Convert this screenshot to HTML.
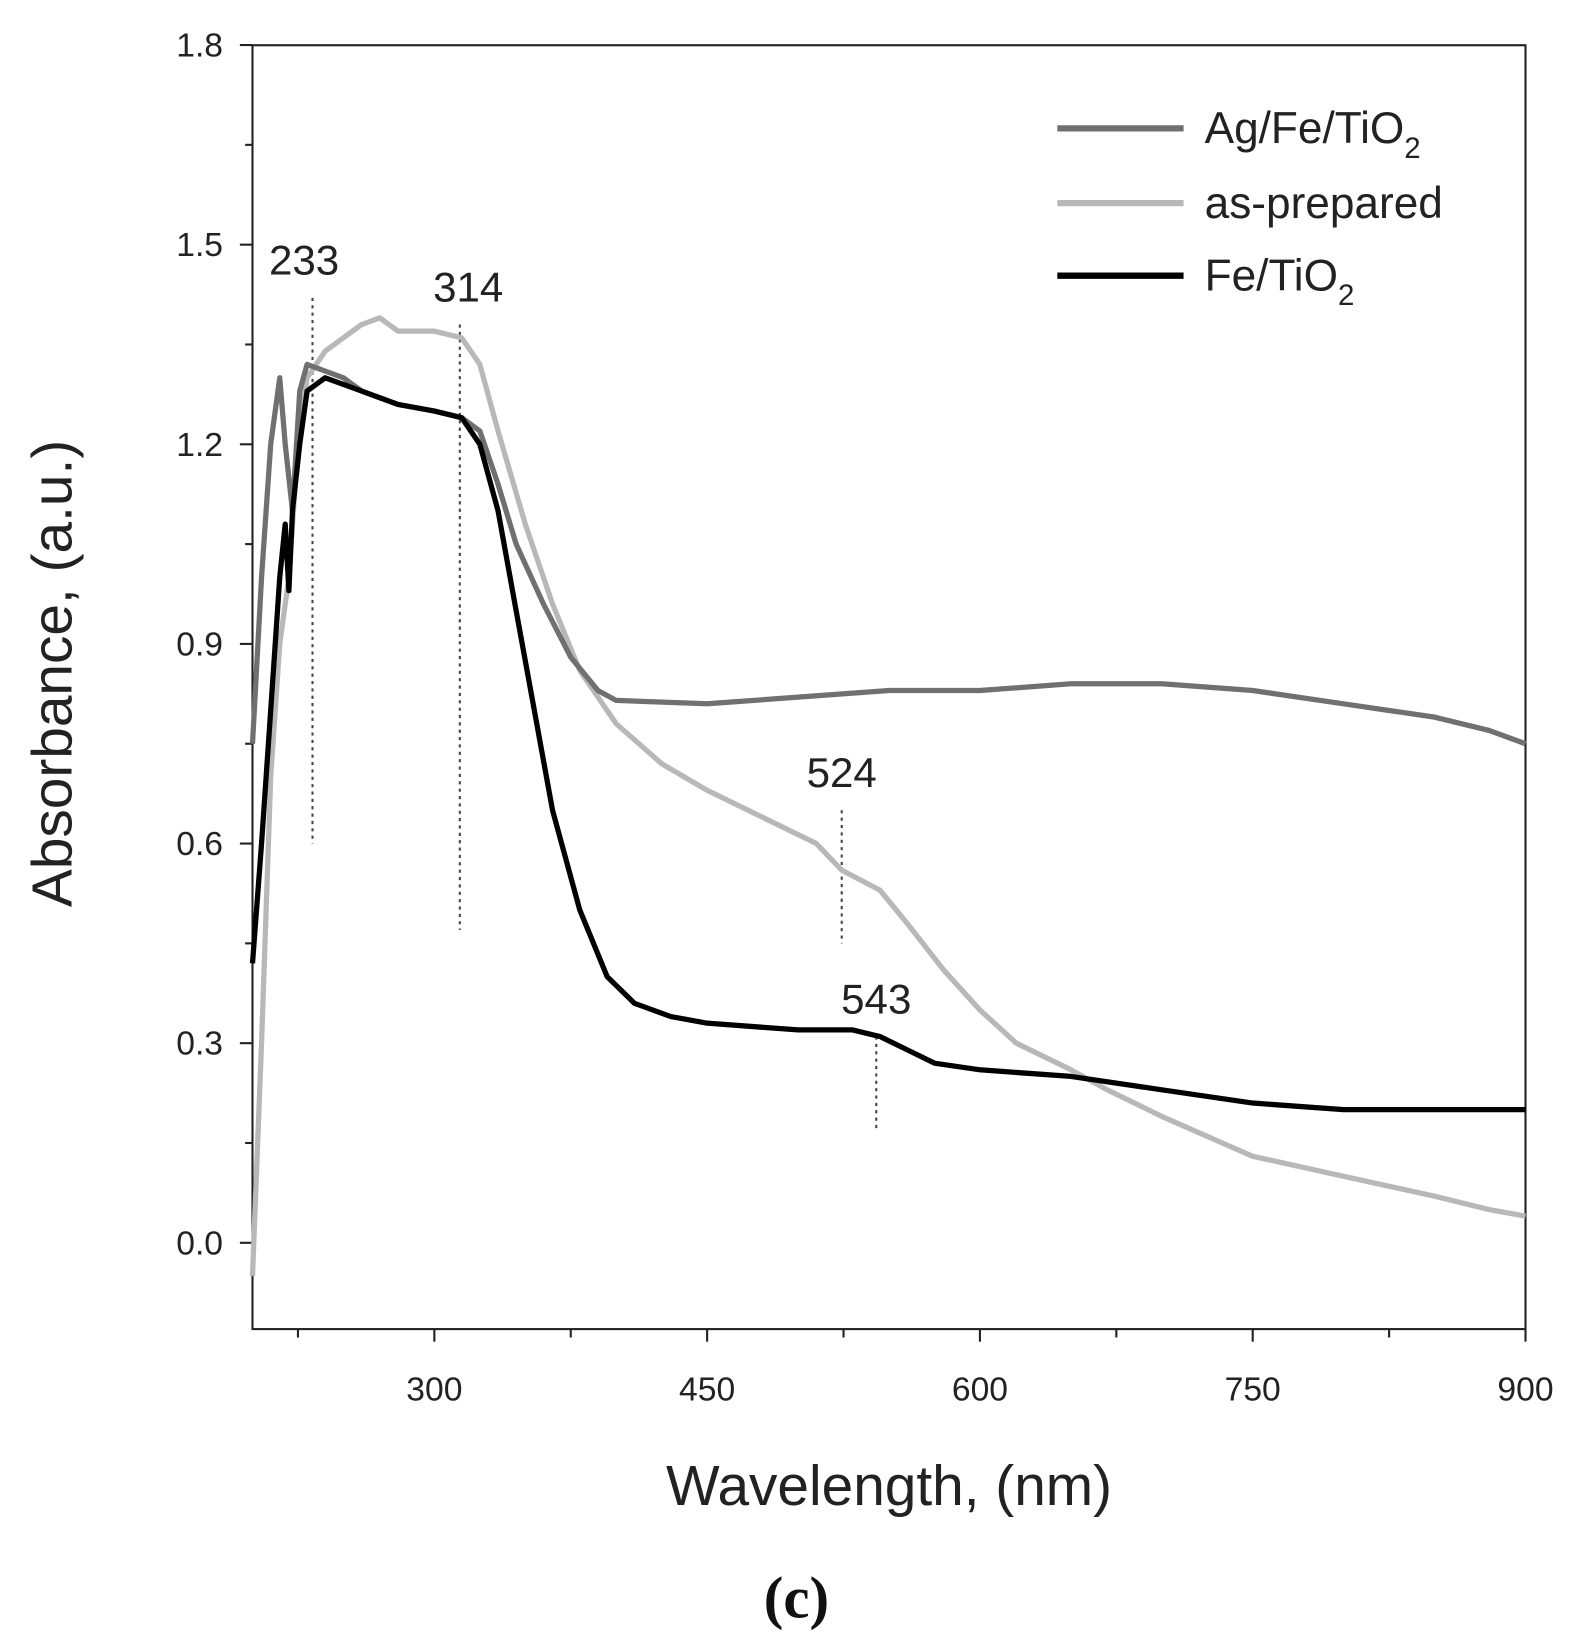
<!DOCTYPE html>
<html><head><meta charset="utf-8"><style>
body{margin:0;background:#fff;}
svg{display:block;font-family:"Liberation Sans",sans-serif;}
</style></head><body>
<svg id="chart" width="1576" height="1649" viewBox="0 0 1498 1567" preserveAspectRatio="none">
<g id="plot"></g>
</svg>
<script>
const xTicks=[300,450,600,750,900];
const yTicks=[0.0,0.3,0.6,0.9,1.2,1.5,1.8];
const seriesNames=["Ag/Fe/TiO2","as-prepared","Fe/TiO2"];
const agWl=[200,205,210,215,218,222,226,230,240,250,260,280,300,315,325,335,345,360,375,390,400,450,500,550,600,650,700,750,800,850,880,900];
const agAbs=[0.75,1.0,1.2,1.3,1.2,1.1,1.28,1.32,1.31,1.3,1.28,1.26,1.25,1.24,1.22,1.14,1.05,0.96,0.88,0.83,0.815,0.81,0.82,0.83,0.83,0.84,0.84,0.83,0.81,0.79,0.77,0.75];
const apWl=[200,205,210,215,220,225,230,240,260,270,280,300,315,325,335,350,365,380,400,425,450,480,510,524,545,560,580,600,620,650,670,700,750,800,850,880,900];
const apAbs=[-0.05,0.3,0.7,0.9,1.0,1.2,1.3,1.34,1.38,1.39,1.37,1.37,1.36,1.32,1.22,1.08,0.96,0.86,0.78,0.72,0.68,0.64,0.6,0.56,0.53,0.48,0.41,0.35,0.3,0.26,0.23,0.19,0.13,0.1,0.07,0.05,0.04];
const feWl=[200,205,210,215,218,220,222,226,230,240,260,280,300,315,325,335,345,355,365,380,395,410,430,450,500,530,545,560,575,600,650,700,750,800,850,900];
const feAbs=[0.42,0.6,0.8,1.0,1.08,0.98,1.1,1.2,1.28,1.3,1.28,1.26,1.25,1.24,1.2,1.1,0.95,0.8,0.65,0.5,0.4,0.36,0.34,0.33,0.32,0.32,0.31,0.29,0.27,0.26,0.25,0.23,0.21,0.2,0.2,0.2];
const markWl=[233,314,524,543];
const markTop=[1.42,1.38,0.65,0.31];
const markBot=[0.6,0.47,0.45,0.17];

const L=240,R=1450,T=43,B=1263;
const X=v=>L+(v-200)/700*(R-L);
const Y=v=>1181-v/0.3*189.7;
const NS="http://www.w3.org/2000/svg";
const g=document.getElementById('plot');
function el(t,a,txt){const e=document.createElementNS(NS,t);for(const k in a)e.setAttribute(k,a[k]);if(txt!==undefined)e.textContent=txt;g.appendChild(e);return e;}

const frame=el('rect',{x:L,y:T,width:R-L,height:B-T,fill:'none',stroke:'#222','stroke-width':2});



xTicks.forEach(v=>{
 const t=el('line',{x1:X(v),x2:X(v),y1:B,y2:B+12,stroke:'#222','stroke-width':2});
 
 
 const m=el('line',{x1:X(v-75),x2:X(v-75),y1:B,y2:B+8,stroke:'#222','stroke-width':2});
 
 
 const l=el('text',{x:X(v),y:B+68,'text-anchor':'middle','font-size':32,fill:'#222'},String(v));
 
 
});
yTicks.forEach(v=>{
 const t=el('line',{x1:L-12,x2:L,y1:Y(v),y2:Y(v),stroke:'#222','stroke-width':2});
 
 
 if(v<1.8){const m=el('line',{x1:L-7,x2:L,y1:Y(v+0.15),y2:Y(v+0.15),stroke:'#222','stroke-width':2});
 
 }
 const l=el('text',{x:L-28,y:Y(v)+11,'text-anchor':'end','font-size':32,fill:'#222'},v.toFixed(1));
 
 
});

const xt=el('text',{x:845,y:1430,'text-anchor':'middle','font-size':54,fill:'#222'},'Wavelength, (nm)');


const yt=el('text',{x:0,y:0,'text-anchor':'middle','font-size':54,fill:'#222',transform:'translate(68,640) rotate(-90)'},'Absorbance, (a.u.)');


const cap=el('text',{x:757,y:1537,'text-anchor':'middle','font-size':56,'font-weight':'bold','font-family':'Liberation Serif,serif',fill:'#111'},'(c)');



markWl.forEach((w,i)=>{
 const ln=el('line',{x1:X(w),x2:X(w),y1:Y(markTop[i]),y2:Y(markBot[i]),stroke:'#444','stroke-width':2,'stroke-dasharray':'3,4'});
 
 
 const lb=el('text',{x:X(w)+(i==0?-8:i==1?8:0),y:Y(markTop[i])-22,'text-anchor':'middle','font-size':40,fill:'#222'},String(w));
 
 
});

const colors=['#707070','#b8b8b8','#000'];
[[apWl,apAbs,1],[agWl,agAbs,0],[feWl,feAbs,2]].forEach(([w,a,ci])=>{
 const d=w.map((v,i)=>(i?'L':'M')+X(v).toFixed(1)+','+Y(a[i]).toFixed(1)).join('');
 const p=el('path',{d:d,fill:'none',stroke:colors[ci],'stroke-width':5,'stroke-linejoin':'round'});
 
 
});

const legY=[122,193,262];
seriesNames.forEach((n,i)=>{
 const ln=el('line',{x1:1005,x2:1125,y1:legY[i],y2:legY[i],stroke:colors[i],'stroke-width':6});
 
 
 const t=el('text',{x:1145,y:legY[i]+14,'font-size':42,fill:'#222'});
 
 
 if(n.endsWith('TiO2')){
  const s1=document.createElementNS(NS,'tspan');s1.textContent=n.slice(0,-1);t.appendChild(s1);
  const s2=document.createElementNS(NS,'tspan');s2.setAttribute('dy','14');s2.setAttribute('font-size','28');s2.textContent='2';t.appendChild(s2);
 } else t.textContent=n;
});
</script>
</body></html>
